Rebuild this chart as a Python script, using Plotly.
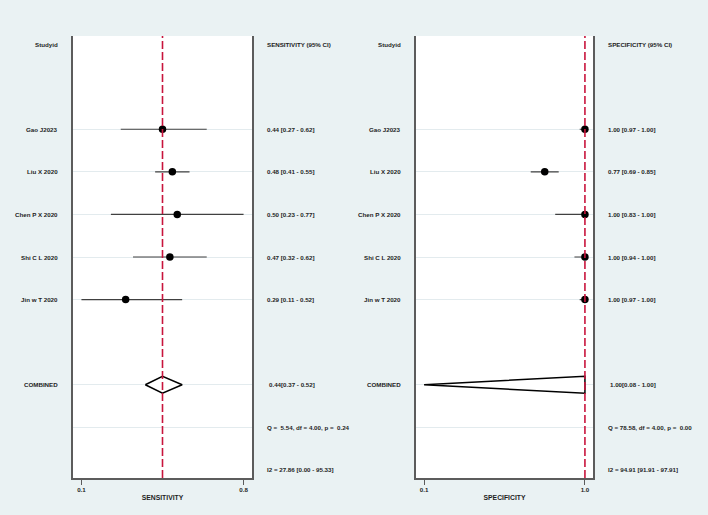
import plotly.graph_objects as go

# ---------------- data ----------------
studies = ["Gao J2023", "Liu X 2020", "Chen P X 2020", "Shi C L 2020", "Jin w T 2020"]

sens_est = [0.44, 0.48, 0.50, 0.47, 0.29]
sens_lo = [0.27, 0.41, 0.23, 0.32, 0.11]
sens_hi = [0.62, 0.55, 0.77, 0.62, 0.52]
sens_pooled = [0.44, 0.37, 0.52]          # estimate, lower, upper
sens_q = "Q =  5.54, df = 4.00, p =  0.24"
sens_i2 = "I2 = 27.86 [0.00 - 95.33]"

spec_est = [1.00, 0.77, 1.00, 1.00, 1.00]
spec_lo = [0.97, 0.69, 0.83, 0.94, 0.97]
spec_hi = [1.00, 0.85, 1.00, 1.00, 1.00]
spec_pooled = [1.00, 0.08, 1.00]
spec_q = "Q = 78.58, df = 4.00, p =  0.00"
spec_i2 = "I2 = 94.91 [91.91 - 97.91]"

study_rows = [2, 3, 4, 5, 6]
combined_row = 8
q_row = 9
i2_row = 10
header_row = 0

BG = "#eaf2f3"
AXC = "#5c5c5c"
TXT = "#1e1e1e"
FONT = "Liberation Sans, Arial, sans-serif"
FS = 6.2

fig = go.Figure()

panels = [
    dict(name="SENSITIVITY", est=sens_est, lo=sens_lo, hi=sens_hi, pooled=sens_pooled,
         q=sens_q, i2=sens_i2, xa="x", ya="y", xdom=[73 / 708, 252 / 708],
         lab_x=59.5 / 708, txt_x=265.3 / 708),
    dict(name="SPECIFICITY", est=spec_est, lo=spec_lo, hi=spec_hi, pooled=spec_pooled,
         q=spec_q, i2=spec_i2, xa="x2", ya="y2", xdom=[415.7 / 708, 593.3 / 708],
         lab_x=402.5 / 708, txt_x=606.3 / 708),
]

annotations = []
shapes = []
for i, p in enumerate(panels):
    est, lo, hi = p["est"], p["lo"], p["hi"]
    pe, pl, ph = p["pooled"]
    xa, ya = p["xa"], p["ya"]

    # pooled estimate reference line (dashed red)
    shapes.append(dict(type="line", xref=xa, yref=f"{ya} domain", x0=pe, x1=pe, y0=0, y1=1,
                       line=dict(color="#c8143c", width=1.6, dash="8px,3px"), layer="above"))

    # study estimates with CI
    fig.add_trace(go.Scatter(
        x=est, y=study_rows, mode="markers", xaxis=xa, yaxis=ya,
        marker=dict(symbol="circle", size=7.5, color="black"),
        error_x=dict(type="data", symmetric=False,
                     array=[h - e for h, e in zip(hi, est)],
                     arrayminus=[e - l for e, l in zip(est, lo)],
                     color="#404040", thickness=1.1, width=0),
        showlegend=False, hoverinfo="skip"))

    # pooled diamond
    h = 0.2
    fig.add_trace(go.Scatter(
        x=[pl, pe, ph, pe, pl],
        y=[combined_row, combined_row - h, combined_row, combined_row + h, combined_row],
        mode="lines", fill="toself", fillcolor="white",
        line=dict(color="black", width=1.5), xaxis=xa, yaxis=ya,
        showlegend=False, hoverinfo="skip"))

    # text columns
    def ann(text, xp, row, anchor):
        annotations.append(dict(text=text, xref="paper", yref=ya, x=xp, y=row,
                                xanchor=anchor, yanchor="middle", showarrow=False,
                                font=dict(family=FONT, size=FS, color=TXT, weight=600)))

    ann("Studyid", p["lab_x"], header_row, "right")
    ann(f"{p['name']} (95% CI)", p["txt_x"], header_row, "left")
    for r, s, e, l, hh in zip(study_rows, studies, est, lo, hi):
        ann(s, p["lab_x"], r, "right")
        ann(f"{e:.2f} [{l:.2f} - {hh:.2f}]", p["txt_x"], r, "left")
    ann("COMBINED", p["lab_x"], combined_row, "right")
    ann(f"{pe:.2f}[{pl:.2f} - {ph:.2f}]", p["txt_x"] + 1.5 / 708, combined_row, "left")
    ann(p["q"], p["txt_x"], q_row, "left")
    ann(p["i2"], p["txt_x"], i2_row, "left")

    # axis ranges / ticks from data extremes
    tmin = min(lo + [pl])
    tmax = max(hi + [ph])
    pad = (tmax - tmin) * 0.052
    xaxis = dict(domain=p["xdom"], range=[tmin - pad, tmax + pad],
                 tickvals=[tmin, tmax], ticktext=[f"{tmin:.1f}", f"{tmax:.1f}"],
                 ticks="outside", ticklen=5, tickwidth=1.2, tickcolor=AXC,
                 showline=True, linecolor=AXC, linewidth=1.5, showgrid=False,
                 zeroline=False, anchor=ya, automargin=False,
                 tickfont=dict(family=FONT, size=FS, color=TXT, weight=600),
                 title=dict(text=p["name"], standoff=3,
                            font=dict(family=FONT, size=FS + 0.6, color=TXT, weight=600)))
    yaxis = dict(domain=[1 - 478 / 515, 1 - 36 / 515], range=[10.19, -0.19],
                 tickvals=study_rows + [combined_row, q_row], showticklabels=False,
                 ticks="", showgrid=True, gridcolor="#e3ebee", gridwidth=1.2,
                 zeroline=False, showline=True, mirror=True, linecolor=AXC,
                 linewidth=1.5, anchor=xa, automargin=False)
    if i == 0:
        fig.update_layout(xaxis=xaxis, yaxis=yaxis)
    else:
        fig.update_layout(xaxis2=xaxis, yaxis2=yaxis)

fig.update_layout(
    width=708, height=515,
    margin=dict(l=0, r=0, t=0, b=0, pad=0),
    paper_bgcolor=BG, plot_bgcolor="white",
    annotations=annotations, shapes=shapes,
    showlegend=False,
)

fig.write_html("out.html", config={"displayModeBar": False},
               post_script="document.body.style.margin='0';document.body.style.overflow='hidden';")
